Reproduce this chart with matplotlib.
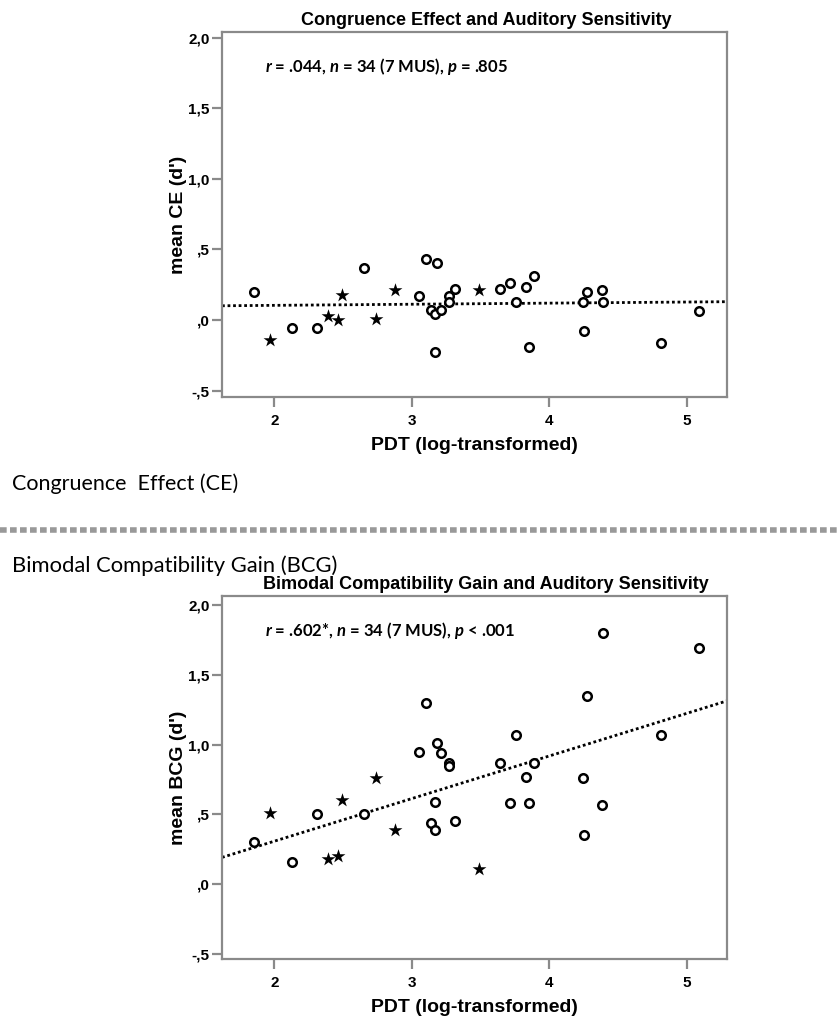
import numpy as np
import matplotlib.pyplot as plt

plt.rcParams["font.family"] = ["Liberation Sans", "DejaVu Sans"]
plt.rcParams["mathtext.fontset"] = "custom"
plt.rcParams["mathtext.it"] = "Lato:italic:bold"
plt.rcParams["mathtext.rm"] = "Lato:bold"

# ------------------------------------------------------------
# data
# ------------------------------------------------------------
pdt_con = [1.85, 2.13, 2.31, 2.65, 3.05, 3.10, 3.18, 3.14, 3.17, 3.21,
           3.27, 3.27, 3.31, 3.17, 3.64, 3.71, 3.76, 3.83, 3.89, 3.85,
           4.24, 4.27, 4.25, 4.38, 4.39, 4.81, 5.09]
ce_con = [0.20, -0.06, -0.06, 0.37, 0.17, 0.43, 0.40, 0.07, 0.04, 0.07,
          0.17, 0.13, 0.22, -0.23, 0.22, 0.26, 0.13, 0.23, 0.31, -0.19,
          0.13, 0.20, -0.08, 0.21, 0.13, -0.16, 0.06]
bcg_con = [0.30, 0.16, 0.50, 0.50, 0.95, 1.30, 1.01, 0.44, 0.39, 0.94,
           0.87, 0.85, 0.45, 0.59, 0.87, 0.58, 1.07, 0.77, 0.87, 0.58,
           0.76, 1.35, 0.35, 0.57, 1.80, 1.07, 1.69]

pdt_mus = [1.97, 2.49, 2.39, 2.46, 2.74, 2.88, 3.49]
ce_mus = [-0.14, 0.18, 0.03, 0.00, 0.01, 0.21, 0.21]
bcg_mus = [0.51, 0.60, 0.18, 0.20, 0.76, 0.39, 0.11]

y_ticks = [-0.5, 0.0, 0.5, 1.0, 1.5, 2.0]
y_labels = ["-,5", ",0", ",5", "1,0", "1,5", "2,0"]
x_ticks = [2, 3, 4, 5]

W, H = 839, 1023
fig = plt.figure(figsize=(W / 100, H / 100), dpi=100)


def px_axes(left, top, right, bottom):
    return fig.add_axes([left / W, 1 - bottom / H, (right - left) / W, (bottom - top) / H])


def scatter_panel(ax, y_con, y_mus, ylim, title, ylabel, stats):
    ax.scatter(pdt_con, y_con, s=38, facecolors="white", edgecolors="black",
               linewidths=1.8, zorder=3)
    ax.scatter(pdt_mus, y_mus, s=110, marker="*", color="black", linewidths=0, zorder=3)

    # linear fit over all points
    xs = np.array(pdt_con + pdt_mus)
    ys = np.array(y_con + y_mus)
    k, b = np.polyfit(xs, ys, 1)
    xl = np.array([1.62, 5.29])
    ax.plot(xl, k * xl + b, color="black", ls=(0, (1, 1)), lw=2, zorder=2)

    ax.set_xlim(1.62, 5.29)
    ax.set_ylim(*ylim)
    ax.set_yticks(y_ticks)
    ax.set_yticklabels(y_labels)
    ax.set_xticks(x_ticks)
    for s in ax.spines.values():
        s.set_color("#8a8a8a")
        s.set_linewidth(1.6)
    ax.tick_params(direction="out", length=7, width=1.6, color="#8a8a8a",
                   labelsize=11, pad=2)
    for lab in ax.get_xticklabels() + ax.get_yticklabels():
        lab.set_fontweight("bold")
    ax.tick_params(axis="x", pad=5)
    ax.set_title(title, fontsize=13, fontweight="bold", pad=5, x=0.523)
    ax.set_ylabel(ylabel, fontsize=14, fontweight="bold", labelpad=1)
    ax.set_xlabel("PDT (log-transformed)", fontsize=14, fontweight="bold", labelpad=7)
    ax.text(0.085, 0.905, stats, transform=ax.transAxes, fontsize=12,
            family="Lato", fontweight="bold", va="center", ha="left")


ax1 = px_axes(222, 32, 727, 397)
scatter_panel(ax1, ce_con, ce_mus, (-0.546, 2.04),
              "Congruence Effect and Auditory Sensitivity",
              "mean CE (d')", r"$r$ = .044, $n$ = 34 (7 MUS), $p$ = .805")

ax2 = px_axes(222, 596, 727, 959)
scatter_panel(ax2, bcg_con, bcg_mus, (-0.536, 2.065),
              "Bimodal Compatibility Gain and Auditory Sensitivity",
              "mean BCG (d')", r"$r$ = .602*, $n$ = 34 (7 MUS), $p$ < .001")

# section labels and separator
fig.text(12 / W, 1 - 484 / H, "Congruence  Effect (CE)", family="Lato", fontsize=15.5,
         va="center", ha="left")
fig.text(12 / W, 1 - 566 / H, "Bimodal Compatibility Gain (BCG)", family="Lato",
         fontsize=15.8, va="center", ha="left")
fig.add_artist(plt.Line2D([0, 1], [1 - 530 / H, 1 - 530 / H], color="#999999",
                          lw=4, ls=(0, (1.2, 0.6)), transform=fig.transFigure))

fig.savefig("out.png", dpi=100)
